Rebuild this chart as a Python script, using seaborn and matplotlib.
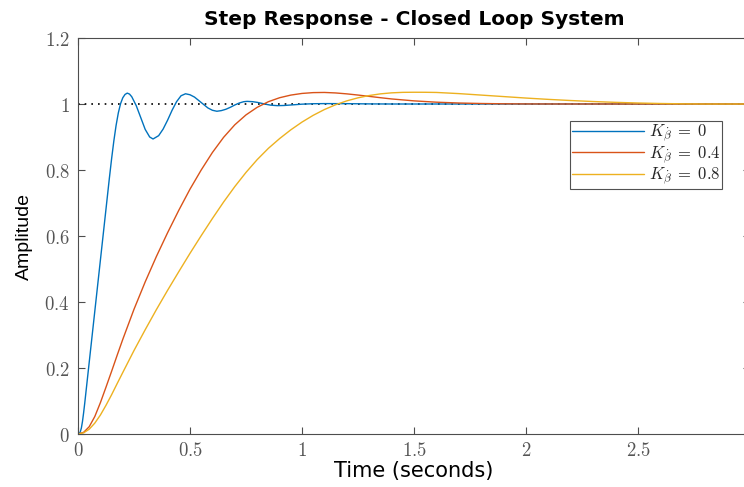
import numpy as np
import pandas as pd
import matplotlib
matplotlib.use("Agg")
import matplotlib.pyplot as plt
import seaborn as sns
from matplotlib.ticker import FixedLocator, FixedFormatter

# Step response samples (time in seconds, amplitude)
t_k0 = [0.000, 0.005, 0.010, 0.015, 0.020, 0.025, 0.030, 0.035, 0.040, 0.060,
        0.080, 0.100, 0.120, 0.140, 0.150, 0.160, 0.170, 0.180, 0.190, 0.200,
        0.210, 0.220, 0.230, 0.240, 0.260, 0.280, 0.300, 0.320, 0.335, 0.360,
        0.380, 0.400, 0.420, 0.440, 0.460, 0.480, 0.500, 0.520, 0.540, 0.560,
        0.580, 0.600, 0.620, 0.640, 0.660, 0.680, 0.700, 0.720, 0.740, 0.755,
        0.780, 0.800, 0.820, 0.840, 0.860, 0.890, 0.920, 0.950, 1.000, 1.050,
        1.100, 1.200, 1.300, 1.400, 2.000, 3.000]
y_k0 = [0.000, 0.001, 0.006, 0.018, 0.038, 0.064, 0.093, 0.124, 0.155, 0.279,
        0.403, 0.527, 0.651, 0.775, 0.834, 0.888, 0.935, 0.973, 1.001, 1.019,
        1.029, 1.033, 1.030, 1.022, 0.995, 0.959, 0.923, 0.900, 0.894, 0.904,
        0.924, 0.951, 0.981, 1.007, 1.025, 1.031, 1.028, 1.021, 1.010, 0.999,
        0.988, 0.981, 0.978, 0.980, 0.984, 0.990, 0.997, 1.003, 1.007, 1.008,
        1.007, 1.005, 1.002, 0.999, 0.9965, 0.995, 0.9955, 0.997, 0.9995, 1.0008,
        1.0012, 1.001, 1.0003, 1.000, 1.000, 1.000]

t_k04 = [0.000, 0.025, 0.050, 0.075, 0.100, 0.125, 0.150, 0.175, 0.200, 0.250,
         0.300, 0.350, 0.400, 0.450, 0.500, 0.550, 0.600, 0.650, 0.700, 0.750,
         0.800, 0.850, 0.900, 0.950, 1.000, 1.050, 1.100, 1.150, 1.200, 1.250,
         1.300, 1.350, 1.400, 1.500, 1.600, 1.700, 1.800, 1.900, 2.000, 2.200,
         3.000]
y_k04 = [0.000, 0.005, 0.022, 0.053, 0.095, 0.142, 0.190, 0.239, 0.287, 0.378,
         0.461, 0.538, 0.610, 0.678, 0.742, 0.800, 0.853, 0.899, 0.937, 0.967,
         0.990, 1.007, 1.019, 1.027, 1.032, 1.0345, 1.035, 1.0335, 1.0307, 1.0271,
         1.0231, 1.0191, 1.0153, 1.0095, 1.0055, 1.003, 1.0015, 1.0006, 1.0002,
         1.000, 1.000]

t_k08 = [0.000, 0.025, 0.050, 0.075, 0.100, 0.125, 0.150, 0.175, 0.200, 0.250,
         0.300, 0.350, 0.400, 0.450, 0.500, 0.550, 0.600, 0.650, 0.700, 0.750,
         0.800, 0.850, 0.900, 0.950, 1.000, 1.050, 1.100, 1.150, 1.200, 1.250,
         1.300, 1.350, 1.400, 1.450, 1.500, 1.550, 1.600, 1.700, 1.800, 1.900,
         2.000, 2.100, 2.200, 2.300, 2.400, 2.500, 2.600, 2.700, 2.800, 3.000]
y_k08 = [0.000, 0.0035, 0.0145, 0.033, 0.0575, 0.087, 0.119, 0.153, 0.1865, 0.253,
         0.316, 0.377, 0.4355, 0.492, 0.5475, 0.601, 0.653, 0.703, 0.7497, 0.7927,
         0.8315, 0.8657, 0.8952, 0.9217, 0.9452, 0.9657, 0.9832, 0.9977, 1.0095,
         1.0187, 1.0257, 1.0307, 1.0338, 1.0353, 1.0356, 1.0355, 1.035, 1.0315,
         1.027, 1.0225, 1.018, 1.014, 1.0105, 1.0075, 1.005, 1.003, 1.0015,
         1.0005, 1.000, 1.000]

series_labels = [r"$K_{\dot{\beta}}\;=\;0$", r"$K_{\dot{\beta}}\;=\;0.4$",
                 r"$K_{\dot{\beta}}\;=\;0.8$"]
series_colors = ["#0072BD", "#D95319", "#EDB120"]

x_ticks = [0, 0.5, 1, 1.5, 2, 2.5, 3]
x_tick_labels = ["0", "0.5", "1", "1.5", "2", "2.5", "3"]
y_ticks = [0, 0.2, 0.4, 0.6, 0.8, 1, 1.2]
y_tick_labels = ["0", "0.2", "0.4", "0.6", "0.8", "1", "1.2"]

sns.set_theme(style="white")
plt.rcParams["font.family"] = ["DejaVu Sans"]
plt.rcParams["mathtext.fontset"] = "cm"

W, H = 744, 487
fig = plt.figure(figsize=(W / 100, H / 100), dpi=100)
ax = fig.add_axes([78 / W, 53 / H, 672 / W, 396 / H])

frames = []
for t, y, lab in zip([t_k0, t_k04, t_k08], [y_k0, y_k04, y_k08], series_labels):
    frames.append(pd.DataFrame({"time": t, "amp": y, "series": lab}))
df = pd.concat(frames, ignore_index=True)

sns.lineplot(data=df, x="time", y="amp", hue="series", palette=series_colors,
             hue_order=series_labels, estimator=None, sort=False,
             linewidth=1.0, ax=ax)

# steady-state reference line
ax.axhline(1.0, color="black", linestyle=(0, (1, 3)), linewidth=1.2, zorder=1)

ax.set_xlim(0, 3)
ax.set_ylim(0, 1.2)
axis_gray = "#4d4d4d"
ax.xaxis.set_major_locator(FixedLocator(x_ticks))
ax.xaxis.set_major_formatter(FixedFormatter(["$%s$" % s for s in x_tick_labels]))
ax.yaxis.set_major_locator(FixedLocator(y_ticks))
ax.yaxis.set_major_formatter(FixedFormatter(["$%s$" % s for s in y_tick_labels]))
ax.tick_params(direction="in", length=5, width=0.8, color=axis_gray,
               labelcolor="#555555", labelsize=13.5, top=True, right=True,
               bottom=True, left=True)
ax.tick_params(axis="x", pad=5)
ax.tick_params(axis="y", pad=6)
for sp in ax.spines.values():
    sp.set_color(axis_gray)
    sp.set_linewidth(0.8)
    sp.set_visible(True)

ax.set_title("Step Response - Closed Loop System", fontsize=14.5,
             fontweight="bold", pad=9.5, color="black")
ax.set_xlabel("Time (seconds)", fontsize=15, labelpad=1, color="black")
ax.set_ylabel("Amplitude", fontsize=14, labelpad=8, color="black",
              family=["Liberation Sans", "DejaVu Sans"])

leg = ax.legend(loc="upper right", bbox_to_anchor=(0.958, 0.790),
                borderaxespad=0, fontsize=12, frameon=True, fancybox=False,
                handlelength=4.3, handletextpad=0.3, labelspacing=0.0,
                borderpad=0.1, edgecolor="#262626")
leg.get_frame().set_linewidth(0.8)

fig.savefig("out.png", dpi=100)
